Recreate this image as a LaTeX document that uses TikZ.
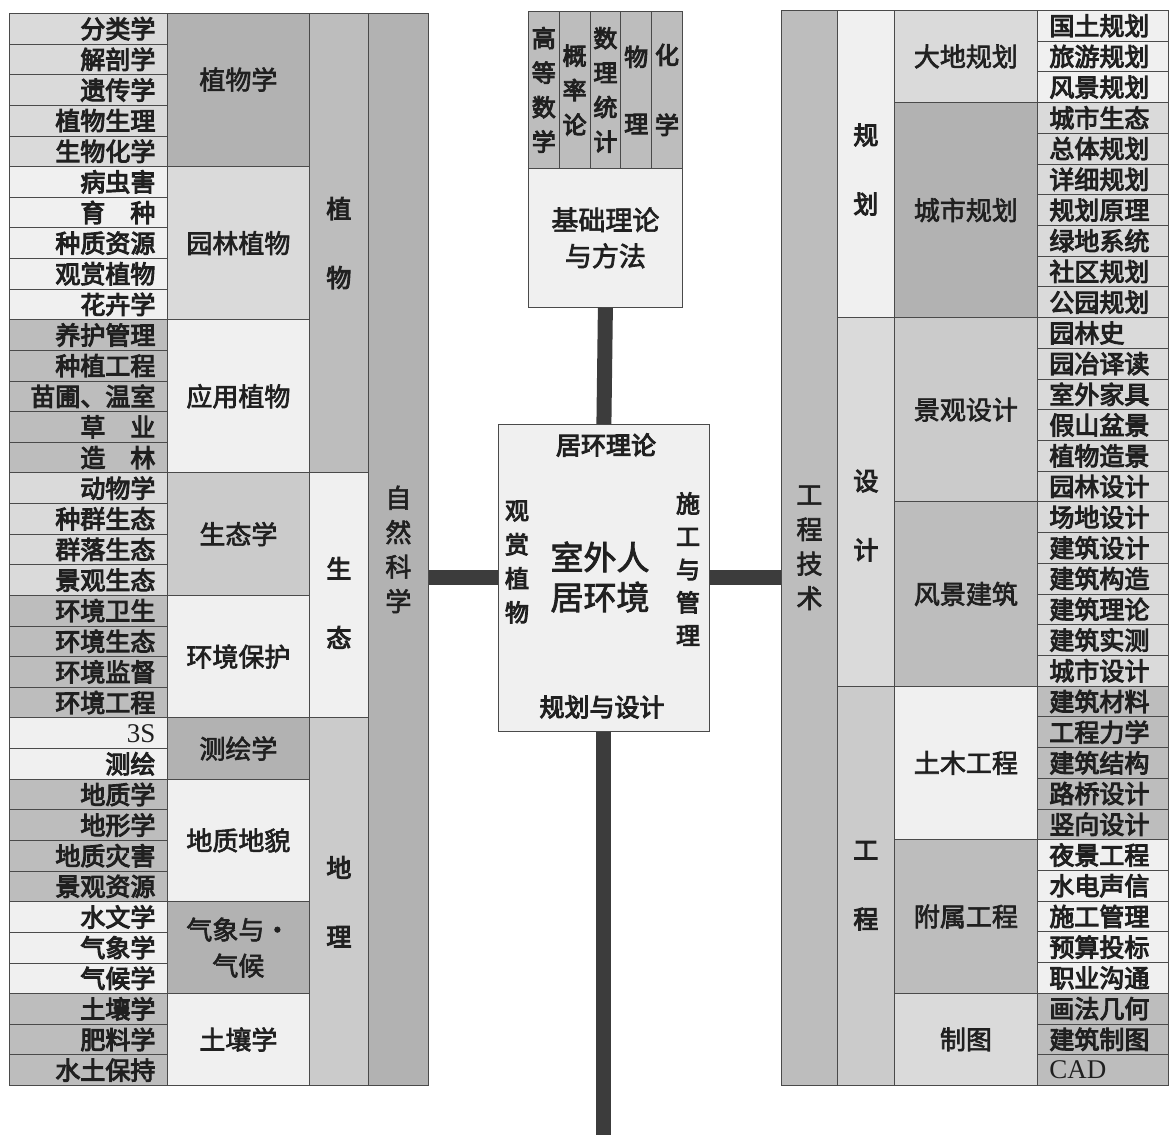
\documentclass[tikz,border=0pt]{standalone}
\usepackage{fontspec}
\setmainfont{Noto Sans CJK SC}
\newfontfamily\med{Noto Sans CJK SC}[FakeBold=4]
\newfontfamily\semi{Noto Sans CJK SC}[FakeBold=2.5]
\newfontfamily\lat{Liberation Serif}
\definecolor{edgecol}{HTML}{4A4A4A}
\definecolor{barcol}{HTML}{3C3C3C}
\definecolor{txt}{HTML}{202020}
\definecolor{w1}{HTML}{F0F0F0}
\definecolor{g1}{HTML}{DADADA}
\definecolor{g2}{HTML}{CBCBCB}
\definecolor{g3}{HTML}{BDBDBD}
\definecolor{g4}{HTML}{B2B2B2}
\begin{document}
\begin{tikzpicture}[x=1pt,y=-1pt,
  cell/.style={draw=edgecol, line width=0.8pt, anchor=north west, inner sep=0pt, text=txt,
               font=\fontsize{25}{28}\selectfont},
  leafL/.style={cell, minimum height=30.63pt, inner xsep=12pt, text width=134pt, align=right,
                font=\fontsize{25}{28}\med},
  leafR/.style={cell, minimum height=30.71pt, inner xsep=12pt, text width=107pt, align=left,
                font=\fontsize{25}{28}\med},
  midL/.style={cell, minimum width=142pt, align=center, font=\fontsize{26}{36}\semi},
  midR/.style={cell, minimum width=143pt, align=center, font=\fontsize{26}{36}\semi},
  vcol/.style={cell, align=center, font=\fontsize{25}{69}\med},
  tall/.style={cell, align=center, font=\fontsize{26}{34.5}\semi},
  mcol/.style={cell, minimum width=30.8pt, minimum height=157pt, align=center, fill=g3,
               font=\fontsize{24}{34.5}\med},
  lab/.style={inner sep=0pt, text=txt, align=center},
  bar/.style={draw=barcol, line width=15pt}
]
\useasboundingbox (0,0) rectangle (1170,1135);
\fill[white] (0,0) rectangle (1170,1135);

% ---------------- left table: leaves ----------------
\def\rl{30.63}
\foreach \t [count=\i from 0] in {分类学,解剖学,遗传学,植物生理,生物化学}
  \node[leafL, fill=g1] (L\i) at (9,{13+\i*\rl}) {\t};
\foreach \t [count=\i from 5] in {病虫害,育　种,种质资源,观赏植物,花卉学}
  \node[leafL, fill=w1] (L\i) at (9,{13+\i*\rl}) {\t};
\foreach \t [count=\i from 10] in {养护管理,种植工程,苗圃、温室,草　业,造　林}
  \node[leafL, fill=g3] (L\i) at (9,{13+\i*\rl}) {\t};
\foreach \t [count=\i from 15] in {动物学,种群生态,群落生态,景观生态}
  \node[leafL, fill=g1] (L\i) at (9,{13+\i*\rl}) {\t};
\foreach \t [count=\i from 19] in {环境卫生,环境生态,环境监督,环境工程}
  \node[leafL, fill=g3] (L\i) at (9,{13+\i*\rl}) {\t};
\node[leafL, fill=w1] (L23) at (9,{13+23*\rl}) {\lat\fontsize{27}{28}\selectfont 3S};
\node[leafL, fill=w1] (L24) at (9,{13+24*\rl}) {测绘};
\foreach \t [count=\i from 25] in {地质学,地形学,地质灾害,景观资源}
  \node[leafL, fill=g3] (L\i) at (9,{13+\i*\rl}) {\t};
\foreach \t [count=\i from 29] in {水文学,气象学,气候学}
  \node[leafL, fill=w1] (L\i) at (9,{13+\i*\rl}) {\t};
\foreach \t [count=\i from 32] in {土壤学,肥料学,水土保持}
  \node[leafL, fill=g3] (L\i) at (9,{13+\i*\rl}) {\t};

% ---------------- left table: middle ----------------
\node[midL, fill=g4, minimum height={5*\rl pt}] (Lm1) at (167,13) {植物学\rule[-23pt]{0pt}{0pt}};
\node[midL, fill=g1, minimum height={5*\rl pt}] (Lm2) at (167,{13+5*\rl}) {园林植物};
\node[midL, fill=w1, minimum height={5*\rl pt}] (Lm3) at (167,{13+10*\rl}) {应用植物};
\node[midL, fill=g2, minimum height={4*\rl pt}] (Lm4) at (167,{13+15*\rl}) {生态学};
\node[midL, fill=w1, minimum height={4*\rl pt}] (Lm5) at (167,{13+19*\rl}) {环境保护};
\node[midL, fill=g4, minimum height={2*\rl pt}] (Lm6) at (167,{13+23*\rl}) {测绘学};
\node[midL, fill=w1, minimum height={4*\rl pt}] (Lm7) at (167,{13+25*\rl}) {地质地貌};
\node[midL, fill=g4, minimum height={3*\rl pt}] (Lm8) at (167,{13+29*\rl}) {气象与·\\气候};
\node[midL, fill=w1, minimum height={3*\rl pt}] (Lm9) at (167,{13+32*\rl}) {土壤学};

% ---------------- left table: column 3 and 4 ----------------
\node[vcol, fill=g3, minimum width=59pt, minimum height={15*\rl pt}] (Lc1) at (309,13) {植\\物};
\node[vcol, fill=w1, minimum width=59pt, minimum height={8*\rl pt}] (Lc2) at (309,{13+15*\rl}) {\rule{0pt}{36pt}生\\态};
\node[vcol, fill=g2, minimum width=59pt, minimum height={12*\rl pt}] (Lc3) at (309,{13+23*\rl}) {地\\理};
\node[tall, fill=g4, minimum width=60pt, minimum height={35*\rl pt}] (nat) at (368,13) {自\\然\\科\\学};

% ---------------- right table: leaves ----------------
\def\rr{30.714}
\foreach \t [count=\i from 0] in {国土规划,旅游规划,风景规划}
  \node[leafR, fill=w1] (R\i) at (1037,{10+\i*\rr}) {\t};
\foreach \t [count=\i from 3] in {城市生态,总体规划,详细规划,规划原理,绿地系统,社区规划,公园规划}
  \node[leafR, fill=g1] (R\i) at (1037,{10+\i*\rr}) {\t};
\foreach \t [count=\i from 10] in {园林史,园冶译读,室外家具,假山盆景,植物造景,园林设计}
  \node[leafR, fill=g1] (R\i) at (1037,{10+\i*\rr}) {\t};
\foreach \t [count=\i from 16] in {场地设计,建筑设计,建筑构造,建筑理论,建筑实测,城市设计}
  \node[leafR, fill=g1] (R\i) at (1037,{10+\i*\rr}) {\t};
\foreach \t [count=\i from 22] in {建筑材料,工程力学,建筑结构,路桥设计,竖向设计}
  \node[leafR, fill=g3] (R\i) at (1037,{10+\i*\rr}) {\t};
\foreach \t [count=\i from 27] in {夜景工程,水电声信,施工管理,预算投标,职业沟通}
  \node[leafR, fill=w1] (R\i) at (1037,{10+\i*\rr}) {\t};
\foreach \t [count=\i from 32] in {画法几何,建筑制图}
  \node[leafR, fill=g3] (R\i) at (1037,{10+\i*\rr}) {\t};
\node[leafR, fill=g3] (R34) at (1037,{10+34*\rr}) {\lat\fontsize{27}{28}\selectfont CAD};

% ---------------- right table: middle ----------------
\node[midR, fill=g1, minimum height={3*\rr pt}] (Rm1) at (894,10) {大地规划};
\node[midR, fill=g4, minimum height={7*\rr pt}] (Rm2) at (894,{10+3*\rr}) {城市规划};
\node[midR, fill=g2, minimum height={6*\rr pt}] (Rm3) at (894,{10+10*\rr}) {景观设计};
\node[midR, fill=g3, minimum height={6*\rr pt}] (Rm4) at (894,{10+16*\rr}) {风景建筑};
\node[midR, fill=w1, minimum height={5*\rr pt}] (Rm5) at (894,{10+22*\rr}) {土木工程};
\node[midR, fill=g3, minimum height={5*\rr pt}] (Rm6) at (894,{10+27*\rr}) {附属工程};
\node[midR, fill=g1, minimum height={3*\rr pt}] (Rm7) at (894,{10+32*\rr}) {制图};

% ---------------- right table: columns 1 and 2 ----------------
\node[vcol, fill=w1, minimum width=57pt, minimum height={10*\rr pt}] (Rc1) at (837,10) {\rule{0pt}{32pt}规\\划};
\node[vcol, fill=g1, minimum width=57pt, minimum height={12*\rr pt}] (Rc2) at (837,{10+10*\rr}) {\rule{0pt}{48pt}设\\计};
\node[vcol, fill=g2, minimum width=57pt, minimum height={13*\rr pt}] (Rc3) at (837,{10+22*\rr}) {工\\程};
\node[tall, fill=g3, minimum width=56pt, minimum height={35*\rr pt}] (eng) at (781,10) {工\\程\\技\\术};

% ---------------- top centre box ----------------
\node[mcol] (m1) at (528,11) {高\\等\\数\\学};
\node[mcol] (m2) at (558.8,11) {概\\率\\论};
\node[mcol] (m3) at (589.6,11) {数\\理\\统\\计};
\node[mcol, font=\fontsize{24}{67}\med] (m4) at (620.4,11) {物\\理};
\node[mcol, font=\fontsize{24}{70}\med] (m5) at (651.2,11) {化\\学};
\node[cell, fill=w1, minimum width=154pt, minimum height=139pt, align=center,
      font=\fontsize{27}{36}\semi] (base) at (528,168) {基础理论\\与方法};

% ---------------- centre box ----------------
\node[cell, fill=w1, minimum width=211pt, minimum height=307pt] (cen) at (498,424) {};
\node[lab, font=\fontsize{25}{28}\med] (cenT) at (606,445) {居环理论};
\node[lab, font=\fontsize{25}{28}\med] (cenB) at (602,707) {规划与设计};
\node[lab, font=\fontsize{24}{34}\med] (cenL) at (517,562) {观\\赏\\植\\物};
\node[lab, font=\fontsize{24}{33}\med] (cenR) at (688,569) {施\\工\\与\\管\\理};
\node[lab, font=\fontsize{33}{40}\semi] (cenM) at (600,577) {室外人\\居环境};

% ---------------- connectors ----------------
\coordinate (botref) at (0,1135);
\coordinate (bot) at (cen.south |- botref);
\draw[bar] (base.south) -- (cen.north);
\draw[bar] (cen.west) -- (nat.east |- cen.west);
\draw[bar] (cen.east) -- (eng.west |- cen.east);
\draw[bar] (cen.south) -- (bot);
\end{tikzpicture}
\end{document}
